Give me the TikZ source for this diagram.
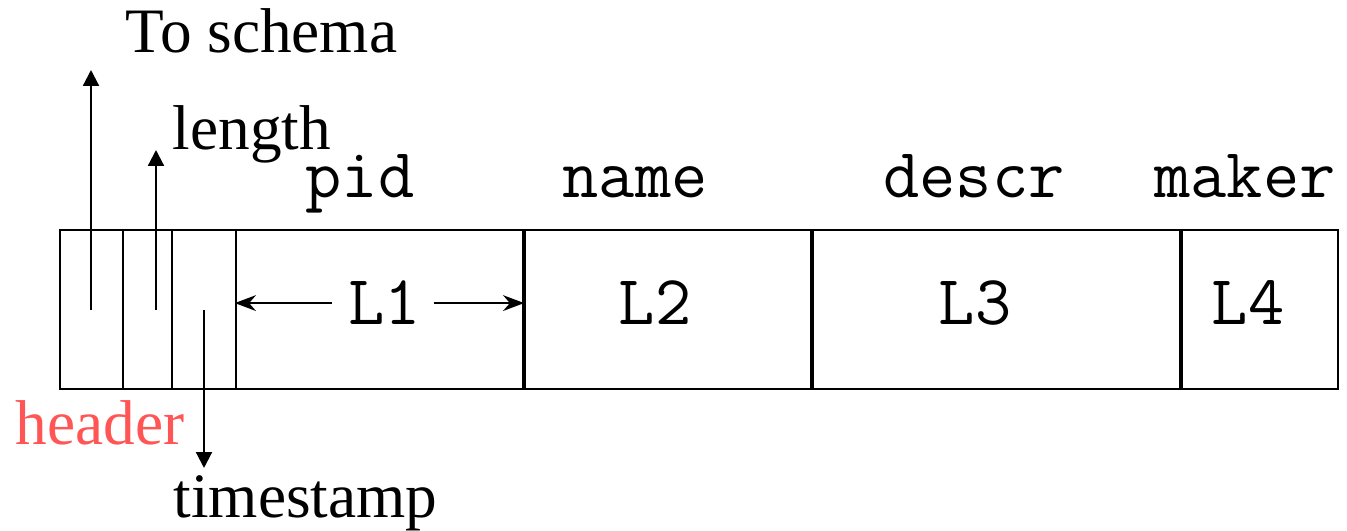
\documentclass[tikz,border=0pt]{standalone}
\usepackage{fontspec}
\setmainfont{Liberation Serif}
\usetikzlibrary{arrows.meta}
\definecolor{hdrred}{RGB}{255,85,85}

\begin{document}
\begin{tikzpicture}[x=0.01cm,y=-0.01cm,
  lbl/.style={font=\fontsize{18}{22}\selectfont,inner sep=0pt,anchor=base west},
  fld/.style={font=\fontsize{20}{24}\selectfont\ttfamily,inner sep=0pt,anchor=base},
  cell/.style={draw,line width=0.6pt,minimum height=1.59cm,inner sep=0pt},
  up/.style={-{Triangle[length=4.5pt,width=4.5pt]},line width=0.6pt},
  len/.style={-{Stealth[length=6pt,width=4.5pt]},line width=0.5pt}]
\useasboundingbox (0,0) rectangle (1347,531);
%header cells
\node[cell,minimum width=0.63cm] (h1) at (91.5,309.5) {};
\node[cell,minimum width=0.49cm] (h2) at (147.5,309.5) {};
\node[cell,minimum width=0.64cm] (h3) at (204,309.5) {};
%fields
\node[cell,minimum width=2.87cm] (f1) at (379.5,309.5) {};
\node[cell,minimum width=2.88cm] (f2) at (667,309.5) {};
\node[cell,minimum width=3.69cm] (f3) at (995.5,309.5) {};
\node[cell,minimum width=1.58cm] (f4) at (1259,309.5) {};
\draw[line width=1pt] (f1.north east) -- (f1.south east)
  (f2.north east) -- (f2.south east) (f3.north east) -- (f3.south east);
% field names
\node[fld] (pid) at (360,198) {pid};
\node[fld] (name) at (635,198) {name};
\node[fld] (descr) at (974,198) {descr};
\node[fld] (maker) at (1245,198) {maker};
% lengths
\node[fld] (l1) at (385,325) {L1};
\node[fld] (l2) at (655,325) {L2};
\node[fld] (l3) at (975,325) {L3};
\node[fld] (l4) at (1248,325) {L4};
\draw[len] (l1.west) ++(-16,0) coordinate (l1a) -- (f1.west |- l1a);
\draw[len] (l1.east) ++(12,0) coordinate (l1b) -- (f1.east |- l1b);
% header pointers
\node[lbl] (schema) at (125,53) {To schema};
\node[lbl] (length) at (172,150) {length};
\node[lbl] (stamp) at (173,518) {timestamp};
\node[lbl,text=hdrred] (header) at (15,445) {header};
\coordinate (p1) at (91,310);
\coordinate (p2) at (156,310);
\coordinate (p3) at (204,310);
\draw[up] (p1) -- (91,70);
\draw[up] (p2) -- (156,150);
\draw[up] (p3) -- (204,468);
\end{tikzpicture}
\end{document}
